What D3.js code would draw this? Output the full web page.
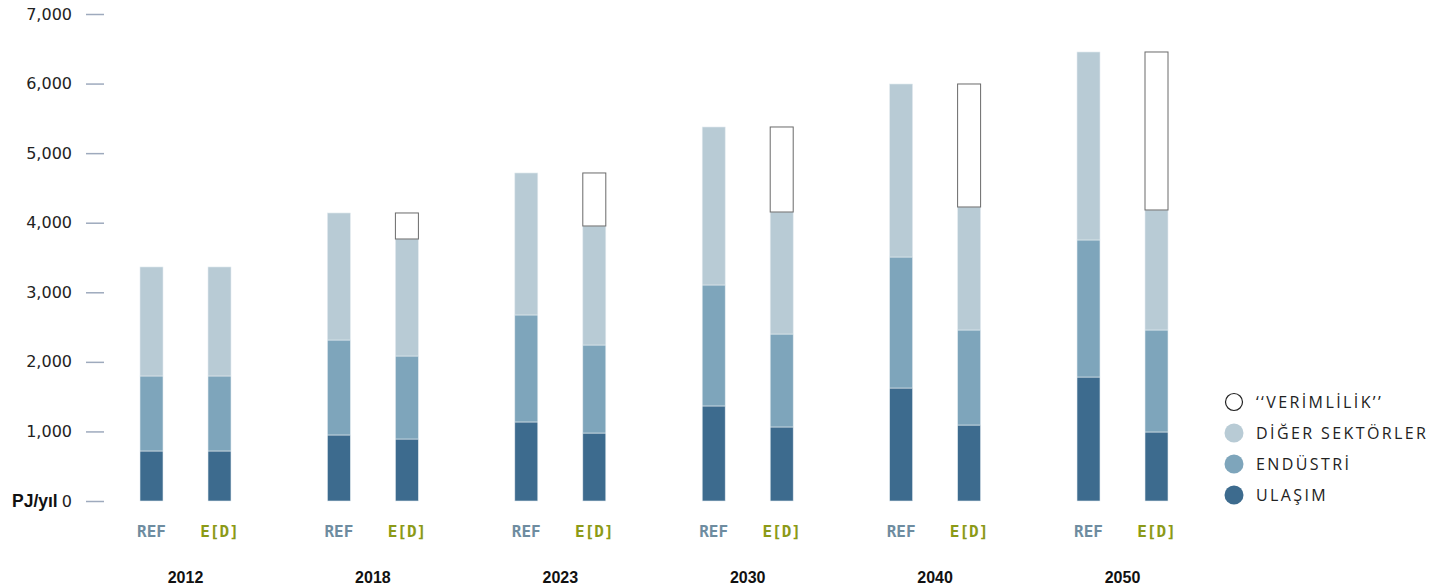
<!DOCTYPE html>
<html>
<head>
<meta charset="utf-8">
<script src="https://cdn.jsdelivr.net/npm/d3@7"></script>
<style>
  body { margin: 0; background: #fff; }
  svg { display: block; }
</style>
</head>
<body>
<svg id="chart"></svg>
<script>
// data (PJ/yıl)
var years = ["2012", "2018", "2023", "2030", "2040", "2050"];
var scenarios = ["REF", "E[D]"];
var ulasimRef = [719, 949, 1136, 1366, 1624, 1782];
var endustriRef = [1078, 1365, 1538, 1739, 1883, 1970];
var digerRef = [1567, 1826, 2041, 2271, 2487, 2702];
var ulasimED = [719, 891, 977, 1064, 1092, 992];
var endustriED = [1078, 1193, 1265, 1336, 1366, 1466];
var digerED = [1567, 1682, 1711, 1754, 1768, 1725];
var verimlilikED = [0, 374, 762, 1222, 1768, 2271];
var yTicks = [0, 1000, 2000, 3000, 4000, 5000, 6000, 7000];
var legendLabels = ["\u2018\u2018VERİMLİLİK\u2019\u2019", "DİĞER SEKTÖRLER", "ENDÜSTRİ", "ULAŞIM"];

var W = 1443, H = 587;
var colors = { ulasim: "#3d6b8e", endustri: "#7ea5bb", diger: "#b8cbd5" };
var keys = ["ulasim", "endustri", "diger", "verimlilik"];

var svg = d3.select("#chart").attr("width", W).attr("height", H);

var y = d3.scaleLinear().domain([0, 7000]).range([501, 14]);
var x = d3.scaleBand().domain(years).range([91.8, 1216.2]).padding(0);
var xs = d3.scalePoint().domain(scenarios).range([-34, 34]);
var barW = 23;

// rows: one per year x scenario
var rows = [];
years.forEach(function(yr, i) {
  rows.push({year: yr, sc: "REF", ulasim: ulasimRef[i], endustri: endustriRef[i], diger: digerRef[i], verimlilik: 0});
  rows.push({year: yr, sc: "E[D]", ulasim: ulasimED[i], endustri: endustriED[i], diger: digerED[i], verimlilik: verimlilikED[i]});
});
var stack = d3.stack().keys(keys)(rows);

// y axis
var axis = svg.append("g").attr("transform", "translate(104,0)")
  .call(d3.axisLeft(y).tickValues(yTicks).tickSize(18).tickPadding(14)
    .tickFormat(function(d) { return d3.format(",")(d); }));
axis.select(".domain").remove();
axis.selectAll(".tick line").attr("stroke", "#9eaabd").attr("stroke-width", 1.5);
axis.selectAll(".tick text").attr("fill", "#222").style("font-family", "DejaVu Sans")
  .style("font-size", "16px");

svg.append("text").attr("x", 12).attr("y", y(0)).attr("dy", "0.35em")
  .style("font-family", "Liberation Sans").style("font-weight", "bold").style("font-size", "17.5px")
  .attr("fill", "#111").text("PJ/yıl");

// bars
stack.forEach(function(layer) {
  var k = layer.key;
  svg.append("g").selectAll("rect").data(layer).join("rect")
    .filter(function(d) { return d[1] - d[0] > 0; })
    .attr("x", function(d) { return x(d.data.year) + x.bandwidth() / 2 + xs(d.data.sc) - barW / 2; })
    .attr("y", function(d) { return y(d[1]); })
    .attr("width", barW)
    .attr("height", function(d) { return y(d[0]) - y(d[1]); })
    .attr("fill", k === "verimlilik" ? "#fff" : colors[k])
    .attr("stroke", k === "verimlilik" ? "#6a6a6a" : "#e4ecf0")
    .attr("stroke-width", k === "verimlilik" ? 1 : 0.6);
});

// scenario labels
var lab = svg.append("g");
years.forEach(function(yr) {
  scenarios.forEach(function(sc) {
    lab.append("text")
      .attr("x", x(yr) + x.bandwidth() / 2 + xs(sc))
      .attr("y", 531).attr("dy", "0.35em").attr("text-anchor", "middle")
      .style("font-family", "DejaVu Sans Mono").style("font-weight", "bold").style("font-size", "16px")
      .attr("fill", sc === "REF" ? "#6e8ca0" : "#8c9a17")
      .text(sc);
  });
  lab.append("text")
    .attr("x", x(yr) + x.bandwidth() / 2).attr("y", 577).attr("dy", "0.35em")
    .attr("text-anchor", "middle")
    .style("font-family", "Liberation Sans").style("font-weight", "bold").style("font-size", "16px")
    .attr("fill", "#111").text(yr);
});

// legend
var legColors = ["#fff", colors.diger, colors.endustri, colors.ulasim];
var leg = svg.append("g").attr("transform", "translate(1234,402)");
legendLabels.forEach(function(t, i) {
  var g = leg.append("g").attr("transform", "translate(0," + i * 31 + ")");
  g.append("circle").attr("r", i === 0 ? 8.5 : 9.5)
    .attr("fill", legColors[i])
    .attr("stroke", i === 0 ? "#222" : "none").attr("stroke-width", 1.2);
  g.append("text").attr("x", 22).attr("dy", "0.35em")
    .style("font-family", "Open Sans").style("font-size", "16px").style("letter-spacing", "2.4px")
    .attr("fill", "#222").text(t);
});
</script>
</body>
</html>
